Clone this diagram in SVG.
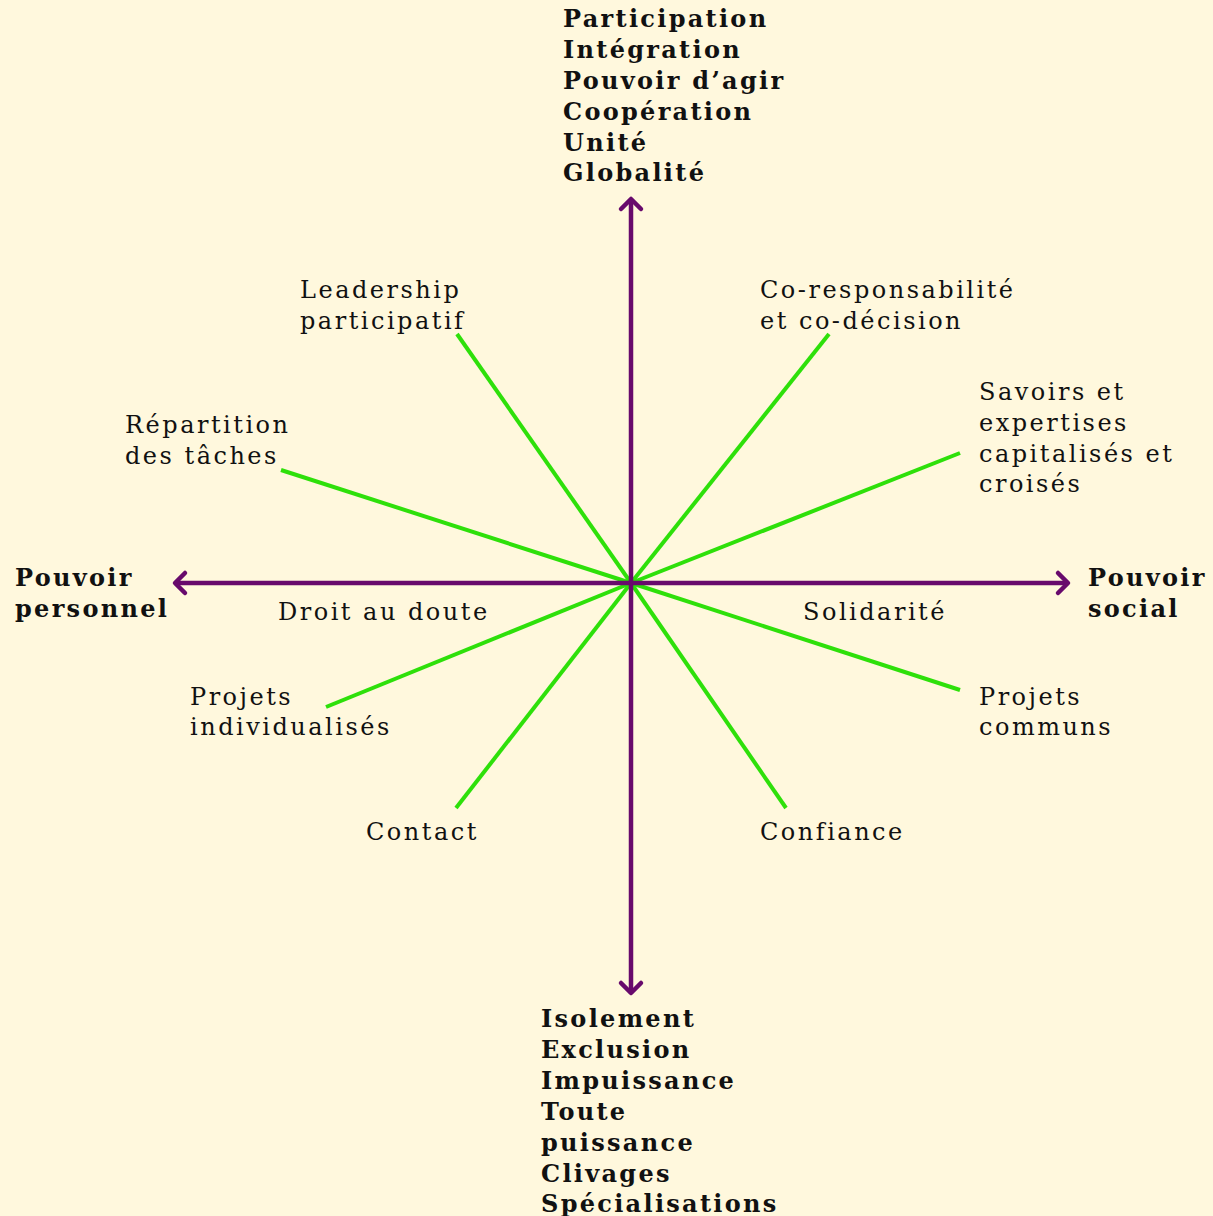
<svg xmlns="http://www.w3.org/2000/svg" width="1213" height="1216" viewBox="0 0 1213 1216">
<style>
.t{font-family:"DejaVu Serif","Liberation Serif",serif;font-size:24px;fill:#111;letter-spacing:2.5px}
.b{font-family:"DejaVu Serif","Liberation Serif",serif;font-size:24px;font-weight:bold;fill:#111;letter-spacing:2.3px}
.g{stroke:#2ee00a;stroke-width:4;stroke-linecap:butt}
.ax{stroke:#680a6c;stroke-width:4.5;fill:none}
.ah{stroke:#680a6c;stroke-width:4.5;fill:none;stroke-linecap:round;stroke-linejoin:round}
</style>
<rect width="1213" height="1216" fill="#fff8dd"/>
<g id="connectors">
<line class="g" x1="631" y1="583" x2="457" y2="334"/>
<line class="g" x1="631" y1="583" x2="829" y2="334"/>
<line class="g" x1="631" y1="583" x2="960" y2="453"/>
<line class="g" x1="631" y1="583" x2="281" y2="470"/>
<line class="g" x1="631" y1="583" x2="326" y2="707"/>
<line class="g" x1="631" y1="583" x2="456" y2="808"/>
<line class="g" x1="631" y1="583" x2="786" y2="808"/>
<line class="g" x1="631" y1="583" x2="960" y2="690"/>
<line class="ax" x1="631" y1="199" x2="631" y2="993"/>
<line class="ax" x1="175" y1="583" x2="1068" y2="583"/>
<polyline class="ah" points="621,209 631,199 641,209"/>
<polyline class="ah" points="621,983 631,993 641,983"/>
<polyline class="ah" points="185,573 175,583 185,593"/>
<polyline class="ah" points="1058,573 1068,583 1058,593"/>
</g>
<g id="top"><text class="b" x="563" y="27">Participation</text><text class="b" x="563" y="58">Intégration</text><text class="b" x="563" y="89">Pouvoir d’agir</text><text class="b" x="563" y="120">Coopération</text><text class="b" x="563" y="151">Unité</text><text class="b" x="563" y="181">Globalité</text></g>
<g id="bottom"><text class="b" x="541" y="1027">Isolement</text><text class="b" x="541" y="1058">Exclusion</text><text class="b" x="541" y="1089">Impuissance</text><text class="b" x="541" y="1120">Toute</text><text class="b" x="541" y="1151">puissance</text><text class="b" x="541" y="1182">Clivages</text><text class="b" x="541" y="1212">Spécialisations</text></g>
<g id="left"><text class="b" x="15" y="586">Pouvoir</text><text class="b" x="15" y="617">personnel</text></g>
<g id="right"><text class="b" x="1088" y="586">Pouvoir</text><text class="b" x="1088" y="617">social</text></g>
<g id="leadership"><text class="t" x="300" y="298">Leadership</text><text class="t" x="300" y="329">participatif</text></g>
<g id="coresp"><text class="t" x="760" y="298">Co-responsabilité</text><text class="t" x="760" y="329">et co-décision</text></g>
<g id="savoirs"><text class="t" x="979" y="400">Savoirs et</text><text class="t" x="979" y="431">expertises</text><text class="t" x="979" y="462">capitalisés et</text><text class="t" x="979" y="492">croisés</text></g>
<g id="repartition"><text class="t" x="125" y="433">Répartition</text><text class="t" x="125" y="464">des tâches</text></g>
<g id="droit"><text class="t" x="278" y="620">Droit au doute</text></g>
<g id="solidarite"><text class="t" x="803" y="620">Solidarité</text></g>
<g id="projind"><text class="t" x="190" y="705">Projets</text><text class="t" x="190" y="735">individualisés</text></g>
<g id="projcom"><text class="t" x="979" y="705">Projets</text><text class="t" x="979" y="735">communs</text></g>
<g id="contact"><text class="t" x="366" y="840">Contact</text></g>
<g id="confiance"><text class="t" x="760" y="840">Confiance</text></g>
</svg>
